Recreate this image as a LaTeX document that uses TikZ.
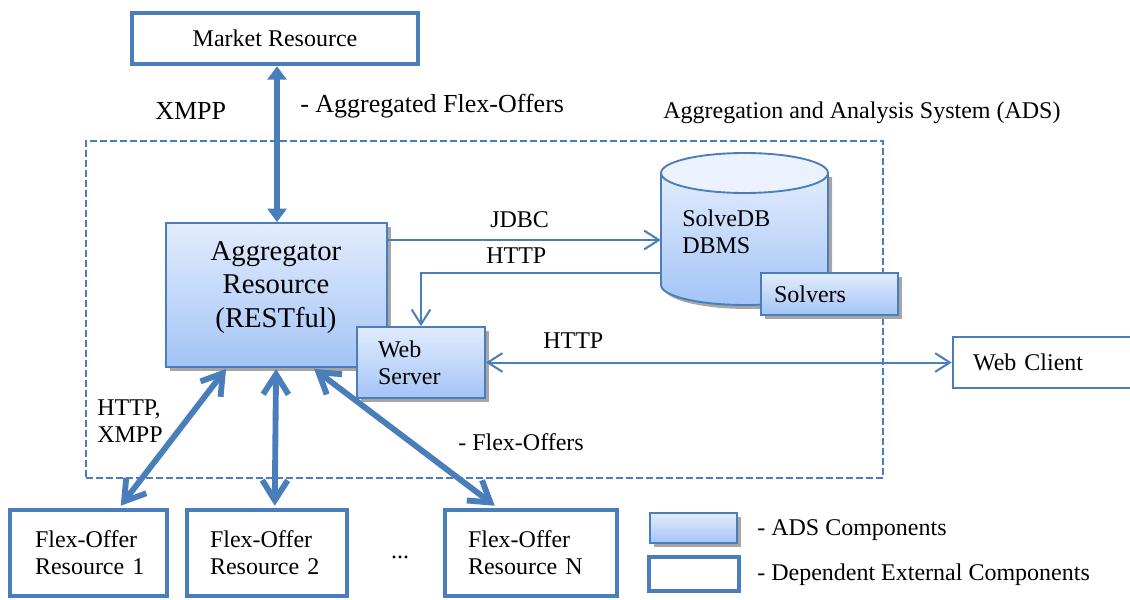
\documentclass[tikz,border=0pt]{standalone}
\usepackage{fontspec}
\setmainfont{Liberation Serif}
\usetikzlibrary{arrows.meta,calc,shadows}
\definecolor{ablue}{RGB}{74,126,187}
\definecolor{gtop}{RGB}{226,236,253}
\definecolor{gbot}{RGB}{163,196,246}
\definecolor{shd}{RGB}{166,166,166}
\def\px{0.75pt}
\begin{document}
\begin{tikzpicture}[x=0.75pt,y=-0.75pt,
  txt/.style={font=\fontsize{18}{20.25}\selectfont},
  lbl/.style={txt, inner sep=0pt, anchor=base west, align=left},
  biglbl/.style={lbl, font=\fontsize{19.5}{22}\selectfont},
  extbox/.style={draw=ablue, line width=3.4pt, fill=white, txt, align=left},
  adsbox/.style={draw=ablue, line width=1.4pt, top color=gtop, bottom color=gbot, txt, align=left,
     drop shadow={fill=shd, opacity=1, shadow xshift=3pt, shadow yshift=-3pt}},
  thinarrow/.style={draw=ablue, line width=1.5pt, -{Straight Barb[length=11pt,width=14pt]}},
  thinboth/.style={draw=ablue, line width=1.5pt, {Straight Barb[length=11pt,width=14pt]}-{Straight Barb[length=11pt,width=14pt]}},
  thickboth/.style={draw=ablue, line width=4.4pt, {Straight Barb[length=15pt,width=19pt]}-{Straight Barb[length=15pt,width=19pt]}},
  mktarrow/.style={draw=ablue, line width=4pt, {Triangle[length=10pt,width=14pt]}-{Triangle[length=10pt,width=14pt]}},
  dashbox/.style={draw=ablue, line width=1.8pt, dash pattern=on 5pt off 2.5pt}
]
\useasboundingbox (0,0) rectangle (1130,599);

% ADS region
\node[dashbox, minimum width=797*\px, minimum height=337*\px, inner sep=0pt] (ads) at (484.5,309.5) {};
\node[lbl] (adstitle) at (663,119) {Aggregation and Analysis System (ADS)};

% Market resource
\node[extbox, minimum width=286*\px, minimum height=51*\px, inner sep=0pt, align=center] (market) at (275,38.5) {Market Resource};

% Aggregator
\node[adsbox, minimum width=221*\px, minimum height=144*\px, inner sep=0pt] (agg) at (276.5,295) {};
\node[font=\fontsize{21.5}{25}\selectfont, align=center, inner sep=0pt, anchor=base] (aggtext) at (276,327) {Aggregator\\Resource\\(RESTful)};

% Database cylinder
\fill[shd] ($(661,173)+(4,4)$) -- ($(661,285)+(4,4)$) .. controls ($(661,296)+(4,4)$) and ($(698.4,305)+(4,4)$) .. ($(744.5,305)+(4,4)$)
  .. controls ($(790.6,305)+(4,4)$) and ($(828,296)+(4,4)$) .. ($(828,285)+(4,4)$) -- ($(828,173)+(4,4)$) -- cycle;
\path[top color=gtop, bottom color=gbot, draw=ablue, line width=1.4pt] (661,173) -- (661,285) .. controls (661,296) and (698.4,305) .. (744.5,305)
  .. controls (790.6,305) and (828,296) .. (828,285) -- (828,173) -- cycle;
\draw[ablue, line width=1.4pt, fill=gtop!70!white] (744.5,173) ellipse [x radius=83.5, y radius=20];
\node[inner sep=0pt, minimum width=167*\px, minimum height=152*\px] (db) at (744.5,229) {};
\node[lbl] (dbtext) at (682,253) {SolveDB\\DBMS};

% Solvers
\node[adsbox, minimum width=137*\px, minimum height=42*\px, inner xsep=13*\px, text width=111*\px] (solv) at (829.5,294) {Solvers};

% Web server
\node[adsbox, minimum width=128*\px, minimum height=71*\px, inner xsep=21*\px, text width=86*\px] (ws) at (421,362.5) {Web\\Server};

% Web client
\node[draw=ablue, line width=2pt, fill=white, txt, align=left, minimum width=187*\px, minimum height=51*\px, inner xsep=20*\px, text width=147*\px] (wc) at (1046.5,362.5) {Web Client};

% Flex-offer resources
\node[extbox, minimum width=157*\px, minimum height=86*\px, inner xsep=25*\px, text width=107*\px] (fo1) at (88.5,553) {Flex-Offer\\\mbox{Resource 1}};
\node[extbox, minimum width=160*\px, minimum height=86*\px, inner xsep=23*\px, text width=114*\px] (fo2) at (267,553) {Flex-Offer\\\mbox{Resource 2}};
\node[extbox, minimum width=172*\px, minimum height=86*\px, inner xsep=23*\px, text width=126*\px] (foN) at (531,553) {Flex-Offer\\\mbox{Resource N}};
\node[txt, inner sep=0pt, anchor=base] (dots) at (400,558) {...};

% Legend
\node[adsbox, minimum width=87*\px, minimum height=30*\px, inner sep=0pt] (legads) at (693.5,528) {};
\node[extbox, minimum width=90*\px, minimum height=34*\px, inner sep=0pt] (legext) at (694,574) {};
\node[lbl] (legadst) at (757,535) {- ADS Components};
\node[lbl] (legextt) at (757,580) {- Dependent External Components};

% Connectors
\coordinate (yj) at (0,240);
\coordinate (yh) at (0,273);
\draw[mktarrow] (market.south -| 277,0) -- (agg.north -| 277,0);
\draw[thinarrow] (agg.east |- yj) -- (db.west |- yj);
\draw[thinarrow] (db.west |- yh) -| (ws.north);
\draw[thinboth] (ws.east) -- (wc.west);
\draw[thickboth] ($(agg.south west)+(61,1)$) -- ($(fo1.north west)+(113,-2)$);
\draw[thickboth] ($(agg.south west)+(111,1)$) -- ($(fo2.north west)+(90,-2)$);
\draw[thickboth] ($(agg.south west)+(149,1)$) -- ($(foN.north west)+(52,-2)$);

% Labels
\node[biglbl] (lxmpp) at (155,120) {XMPP};
\node[biglbl] (laggfo) at (300,113) {-\hspace{0.25em}Aggregated Flex-Offers};
\node[lbl] (ljdbc) at (490,227) {JDBC};
\node[lbl] (lhttp1) at (486,263) {HTTP};
\node[lbl] (lhttp2) at (543,348) {HTTP};
\node[lbl] (lhx) at (97,442) {HTTP,\\XMPP};
\node[lbl] (lfo) at (458,450) {- Flex-Offers};
\end{tikzpicture}
\end{document}
